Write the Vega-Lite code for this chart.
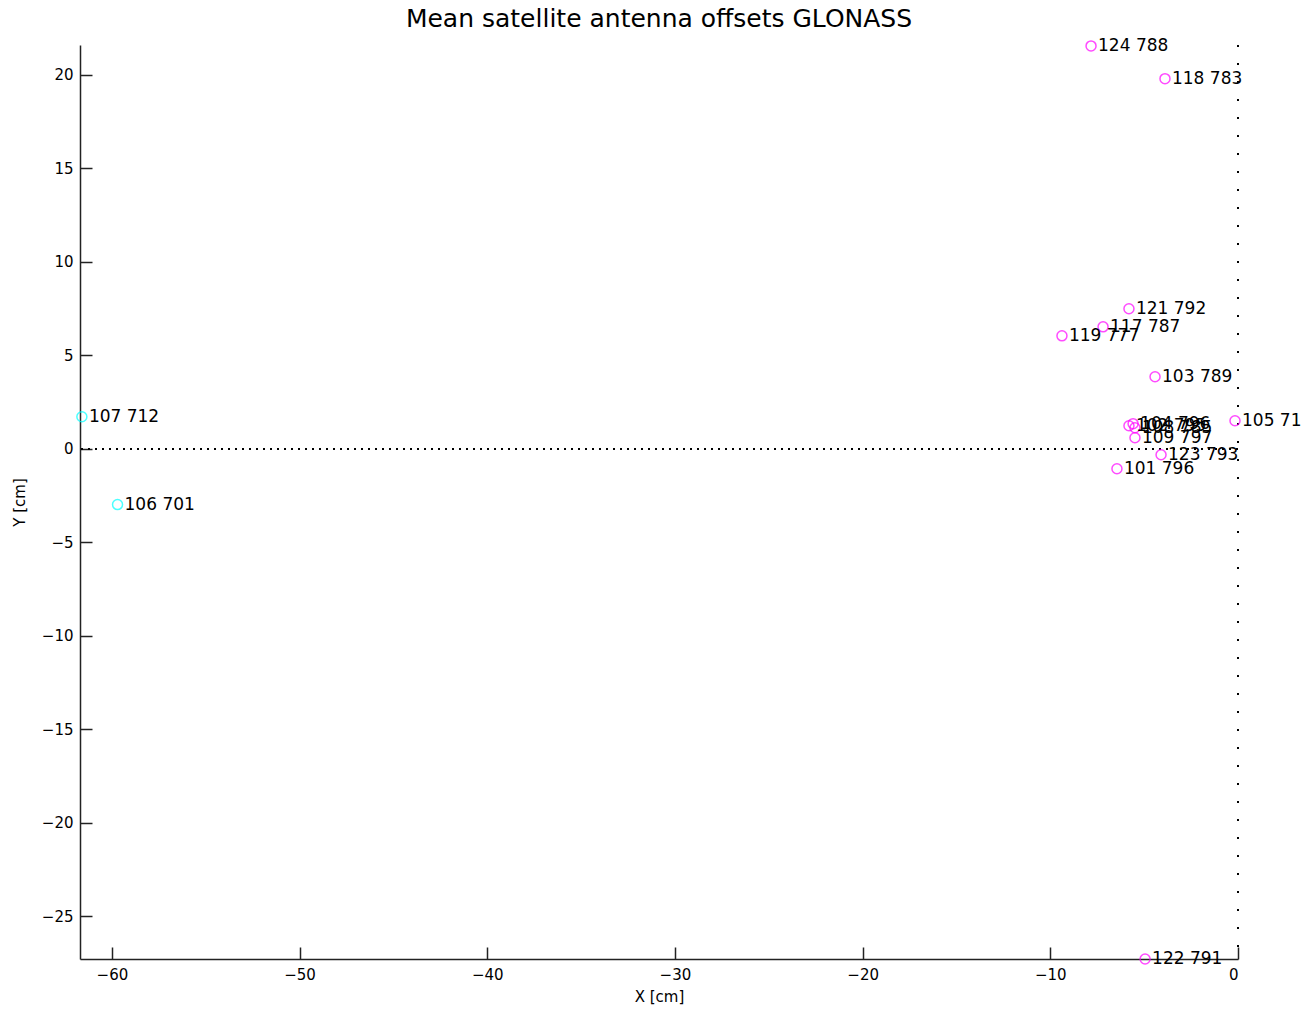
{
  "$schema": "https://vega.github.io/schema/vega-lite/v6.json",
  "width": 1158,
  "height": 914,
  "autosize": {"type": "none"},
  "padding": {"left": 80, "top": 45, "right": 65, "bottom": 51},
  "background": "white",
  "title": {
    "text": "Mean satellite antenna offsets GLONASS",
    "font": "DejaVu Sans",
    "fontSize": 25,
    "fontWeight": "normal",
    "color": "#000000",
    "offset": 5
  },
  "config": {
    "view": {"stroke": null},
    "axis": {
      "font": "DejaVu Sans",
      "labelFont": "DejaVu Sans",
      "titleFont": "DejaVu Sans",
      "labelFontSize": 15,
      "titleFontSize": 15,
      "titleFontWeight": "normal",
      "labelColor": "#000000",
      "titleColor": "#000000",
      "domainColor": "#222222",
      "tickColor": "#222222",
      "domainWidth": 1.5,
      "tickWidth": 1.5,
      "grid": false
    }
  },
  "data": {
    "values": [
      {"X": -7.83, "Y": 21.55, "label": "124 788", "group": "m"},
      {"X": -3.89, "Y": 19.8, "label": "118 783", "group": "m"},
      {"X": -5.81, "Y": 7.49, "label": "121 792", "group": "m"},
      {"X": -7.19, "Y": 6.52, "label": "117 787", "group": "m"},
      {"X": -9.38, "Y": 6.04, "label": "119 777", "group": "m"},
      {"X": -4.42, "Y": 3.85, "label": "103 789", "group": "m"},
      {"X": -0.16, "Y": 1.5, "label": "105 71", "group": "m"},
      {"X": -5.81, "Y": 1.23, "label": "102 795", "group": "m"},
      {"X": -5.59, "Y": 1.34, "label": "104 796", "group": "m"},
      {"X": -5.49, "Y": 1.12, "label": "108 785", "group": "m"},
      {"X": -5.49, "Y": 0.59, "label": "109 797", "group": "m"},
      {"X": -4.1, "Y": -0.32, "label": "123 793", "group": "m"},
      {"X": -6.45, "Y": -1.07, "label": "101 796", "group": "m"},
      {"X": -4.95, "Y": -27.3, "label": "122 791", "group": "m"},
      {"X": -61.6, "Y": 1.71, "label": "107 712", "group": "c"},
      {"X": -59.7, "Y": -2.99, "label": "106 701", "group": "c"}
    ]
  },
  "encoding": {
    "x": {
      "field": "X",
      "type": "quantitative",
      "scale": {"domain": [-61.7, 0], "nice": false, "zero": false},
      "axis": {
        "title": "X [cm]",
        "values": [-60, -50, -40, -30, -20, -10, 0],
        "tickSize": -12,
        "labelPadding": 20,
        "titlePadding": 7
      }
    },
    "y": {
      "field": "Y",
      "type": "quantitative",
      "scale": {"domain": [-27.3, 21.6], "nice": false, "zero": false},
      "axis": {
        "title": "Y [cm]",
        "values": [-25, -20, -15, -10, -5, 0, 5, 10, 15, 20],
        "tickSize": -12,
        "labelPadding": 19,
        "titlePadding": 14
      }
    }
  },
  "layer": [
    {
      "mark": {"type": "rule", "color": "#000000", "strokeDash": [1.5, 5.5], "strokeWidth": 1.5},
      "encoding": {"y": {"datum": 0}, "x": null}
    },
    {
      "mark": {"type": "rule", "color": "#000000", "strokeDash": [1.5, 16.5], "strokeWidth": 1.5},
      "encoding": {"x": {"datum": 0}, "y": null}
    },
    {
      "mark": {"type": "point", "shape": "circle", "filled": false, "size": 100, "strokeWidth": 1.5, "clip": false},
      "encoding": {
        "color": {
          "field": "group",
          "type": "nominal",
          "scale": {"domain": ["m", "c"], "range": ["#ff00ff", "#00ffff"]},
          "legend": null
        }
      }
    },
    {
      "mark": {"type": "text", "align": "left", "baseline": "middle", "dx": 7, "font": "DejaVu Sans", "fontSize": 17, "color": "#000000", "clip": false},
      "encoding": {"text": {"field": "label"}}
    }
  ]
}
